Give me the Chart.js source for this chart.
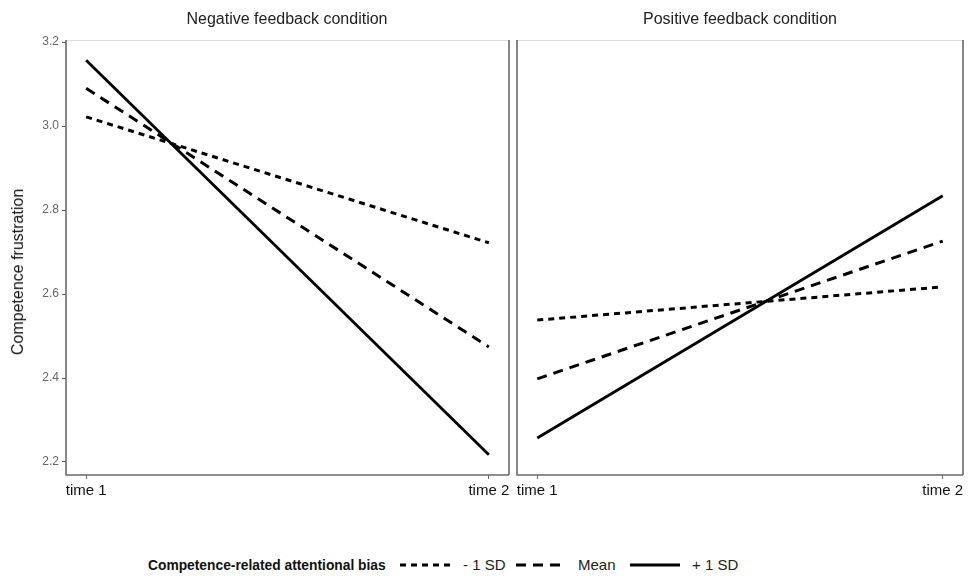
<!DOCTYPE html>
<html>
<head>
<meta charset="utf-8">
<script src="https://cdn.jsdelivr.net/npm/chart.js@4"></script>
<style>
  body { margin: 0; background: #fff; width: 971px; height: 578px; position: relative; overflow: hidden; font-family: "Liberation Sans", Arial, sans-serif; }
  canvas { position: absolute; top: 0; }
  .facet { position: absolute; top: 10px; font-size: 16px; color: #222; transform: translateX(-50%); white-space: nowrap; }
  .ytitle { position: absolute; left: 18px; top: 272px; font-size: 16px; color: #111; white-space: nowrap; transform: translate(-50%, -50%) rotate(-90deg); }
  .leg { position: absolute; top: 556px; font-size: 15px; color: #222; white-space: nowrap; line-height: 18px; }
  .leg b { color: #111; display: inline-block; transform: scaleX(0.92); transform-origin: left center; }
  svg.key { position: absolute; top: 558px; }
</style>
</head>
<body>
<canvas id="neg" width="515" height="515" style="left:0"></canvas>
<canvas id="pos" width="460" height="515" style="left:511px"></canvas>

<div class="facet" style="left:287px">Negative feedback condition</div>
<div class="facet" style="left:740px">Positive feedback condition</div>
<div class="ytitle">Competence frustration</div>

<div class="leg" style="left:148px"><b>Competence-related attentional bias</b></div>
<svg class="key" width="52" height="14" style="left:400px"><line x1="0" y1="7" x2="52" y2="7" stroke="#000" stroke-width="3" stroke-dasharray="6,5"/></svg>
<div class="leg" style="left:463px">- 1 SD</div>
<svg class="key" width="50" height="14" style="left:516px"><line x1="0" y1="7" x2="50" y2="7" stroke="#000" stroke-width="3" stroke-dasharray="10,7"/></svg>
<div class="leg" style="left:578px">Mean</div>
<svg class="key" width="50" height="14" style="left:630px"><line x1="0" y1="7" x2="50" y2="7" stroke="#000" stroke-width="3"/></svg>
<div class="leg" style="left:692px">+ 1 SD</div>

<script>
const timePoints = [1, 2];
const xLabels = ['time 1', 'time 2'];
const yTicks = [2.2, 2.4, 2.6, 2.8, 3.0, 3.2];

// negative feedback condition
const negLow = [3.022, 2.722];
const negMean = [3.090, 2.474];
const negHigh = [3.157, 2.217];

// positive feedback condition
const posLow = [2.538, 2.617];
const posMean = [2.398, 2.726];
const posHigh = [2.257, 2.834];

const panelBorder = {
  id: 'panelBorder',
  beforeDatasetsDraw(chart) {
    const { ctx, chartArea: a } = chart;
    ctx.save();
    ctx.strokeStyle = '#dcdcdc';
    ctx.lineWidth = 1;
    ctx.beginPath();
    ctx.moveTo(a.left, a.top + 0.5);
    ctx.lineTo(a.right, a.top + 0.5);
    ctx.stroke();
    ctx.strokeStyle = '#6a6a6a';
    ctx.lineWidth = 1.6;
    ctx.beginPath();
    ctx.moveTo(a.left, a.top);
    ctx.lineTo(a.left, a.bottom);
    ctx.lineTo(a.right, a.bottom);
    ctx.moveTo(a.right, a.top);
    ctx.lineTo(a.right, a.bottom);
    ctx.stroke();
    ctx.restore();
  }
};

function series(vals, dash, width) {
  return {
    data: timePoints.map((t, i) => ({ x: t, y: vals[i] })),
    borderColor: '#000',
    borderWidth: width,
    borderDash: dash,
    borderCapStyle: 'butt',
    pointRadius: 0,
    fill: false,
    tension: 0,
  };
}

function makePanel(id, low, mean, high, showY, padding) {
  return new Chart(document.getElementById(id), {
    type: 'line',
    data: {
      datasets: [
        series(low, [6, 5], 3),
        series(mean, [10, 7], 3),
        series(high, [], 2.8),
      ],
    },
    options: {
      responsive: false,
      animation: false,
      layout: { padding },
      plugins: { legend: { display: false }, tooltip: { enabled: false } },
      scales: {
        x: {
          type: 'linear',
          min: 0.95,
          max: 2.05,
          afterBuildTicks: s => { s.ticks = timePoints.map(v => ({ value: v })); },
          afterFit: s => { s.height = 40; },
          grid: { drawOnChartArea: false, drawTicks: true, tickLength: 4, color: '#666' },
          border: { display: false },
          ticks: {
            callback: v => xLabels[timePoints.indexOf(v)],
            color: '#111',
            font: { size: 15, family: '"Liberation Sans", Arial, sans-serif' },
            padding: 3,
            maxRotation: 0,
          },
        },
        y: {
          display: showY,
          min: 2.169,
          max: 3.205,
          afterBuildTicks: s => { s.ticks = yTicks.map(v => ({ value: v })); },
          afterFit: s => { s.width = showY ? 66 : 0; },
          grid: { drawOnChartArea: false, drawTicks: true, tickLength: 4, color: '#555' },
          border: { display: false },
          ticks: {
            callback: v => v.toFixed(1),
            color: '#666',
            font: { size: 12, family: '"Liberation Sans", Arial, sans-serif' },
            padding: 3,
          },
        },
      },
    },
    plugins: [panelBorder],
  });
}

makePanel('neg', negLow, negMean, negHigh, true, { top: 40, left: 0, right: 6, bottom: 0 });
makePanel('pos', posLow, posMean, posHigh, false, { top: 40, left: 6, right: 8, bottom: 0 });
</script>
</body>
</html>
